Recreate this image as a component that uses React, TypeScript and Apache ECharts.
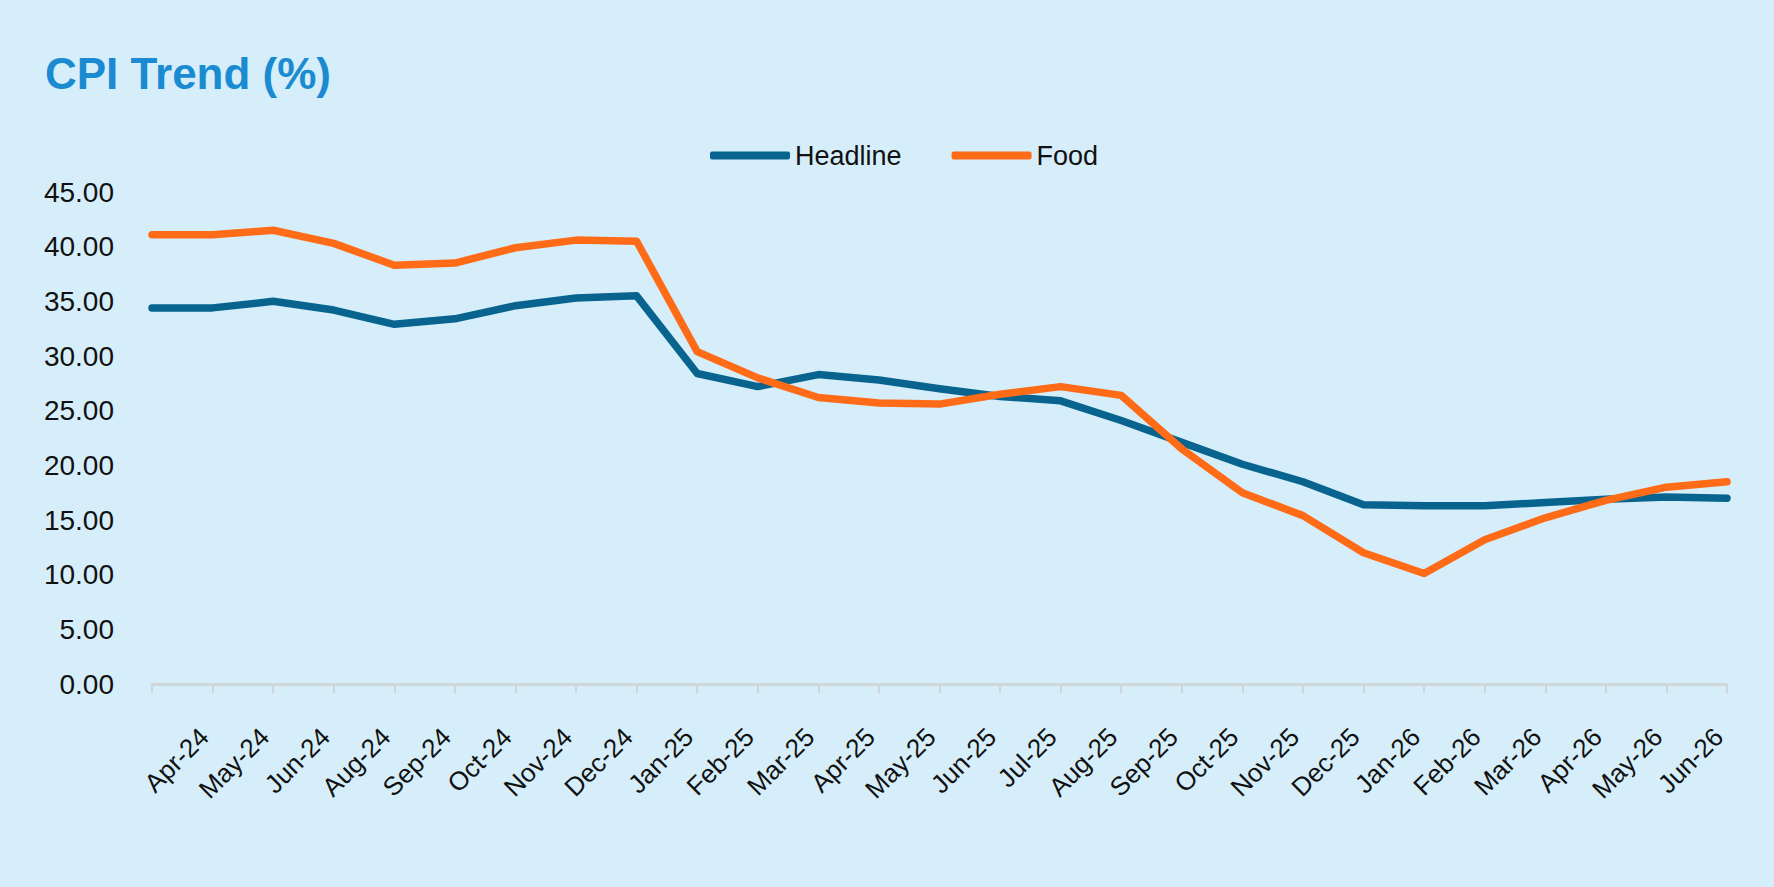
import React, { useEffect, useRef } from "react";
import * as echarts from "echarts";

const categories: string[] = [
  "", "Apr-24", "May-24", "Jun-24", "Aug-24", "Sep-24", "Oct-24", "Nov-24", "Dec-24",
  "Jan-25", "Feb-25", "Mar-25", "Apr-25", "May-25", "Jun-25", "Jul-25", "Aug-25",
  "Sep-25", "Oct-25", "Nov-25", "Dec-25", "Jan-26", "Feb-26", "Mar-26", "Apr-26",
  "May-26", "Jun-26",
];

const headline: number[] = [
  34.4, 34.4, 35.0, 34.2, 32.9, 33.4, 34.6, 35.3, 35.5,
  28.4, 27.2, 28.3, 27.8, 27.0, 26.3, 25.9, 24.1, 22.1,
  20.1, 18.5, 16.4, 16.3, 16.3, 16.6, 16.9, 17.1, 17.0,
];

const food: number[] = [
  41.1, 41.1, 41.5, 40.3, 38.3, 38.5, 39.9, 40.6, 40.5,
  30.4, 28.0, 26.2, 25.7, 25.6, 26.5, 27.2, 26.4, 21.5,
  17.5, 15.4, 12.0, 10.1, 13.2, 15.2, 16.8, 18.0, 18.5,
];

const yTicks = { min: 0, max: 45, interval: 5 };

const FONT = "'Liberation Sans', Arial, Helvetica, sans-serif";

export default function App() {
  const ref = useRef<HTMLDivElement | null>(null);

  useEffect(() => {
    if (!ref.current) return;
    const chart = echarts.init(ref.current, undefined, { renderer: "svg" });
    chart.setOption({
      animation: false,
      backgroundColor: "#d5eefa",
      textStyle: { fontFamily: FONT },
      title: {
        text: "CPI Trend (%)",
        left: 40,
        top: 46,
        textStyle: {
          fontFamily: FONT,
          fontSize: 44,
          fontWeight: "bold",
          color: "#1a8bd0",
        },
      },
      legend: {
        left: 705,
        top: 137,
        icon: "roundRect",
        itemWidth: 80,
        itemHeight: 8,
        itemGap: 50,
        textStyle: { fontFamily: FONT, fontSize: 27, color: "#111111" },
        data: ["Headline", "Food"],
      },
      grid: { left: 152, right: 47, top: 192, height: 492 },
      xAxis: {
        type: "category",
        data: categories,
        boundaryGap: false,
        axisLine: { lineStyle: { color: "#cfd6da", width: 3 } },
        axisTick: { show: true, length: 9, lineStyle: { color: "#cfd6da", width: 2 } },
        axisLabel: {
          rotate: 45,
          interval: 0,
          margin: 40,
          padding: [0, 12, 0, 0],
          fontSize: 26,
          color: "#111111",
          fontFamily: FONT,
        },
        splitLine: { show: false },
      },
      yAxis: {
        type: "value",
        min: yTicks.min,
        max: yTicks.max,
        interval: yTicks.interval,
        axisLine: { show: false },
        axisTick: { show: false },
        splitLine: { show: false },
        axisLabel: {
          formatter: (v: number) => v.toFixed(2),
          fontSize: 28,
          color: "#111111",
          margin: 38,
          fontFamily: FONT,
        },
      },
      series: [
        {
          name: "Headline",
          type: "line",
          data: headline,
          showSymbol: false,
          symbol: "none",
          lineStyle: { color: "#08648f", width: 7.5, cap: "round", join: "round" },
          itemStyle: { color: "#08648f" },
        },
        {
          name: "Food",
          type: "line",
          data: food,
          showSymbol: false,
          symbol: "none",
          lineStyle: { color: "#ff6b17", width: 7.5, cap: "round", join: "round" },
          itemStyle: { color: "#ff6b17" },
        },
      ],
    });
    return () => chart.dispose();
  }, []);

  return (
    <div
      ref={ref}
      style={{ position: "fixed", left: 0, top: 0, width: "100vw", height: "100vh" }}
    />
  );
}
